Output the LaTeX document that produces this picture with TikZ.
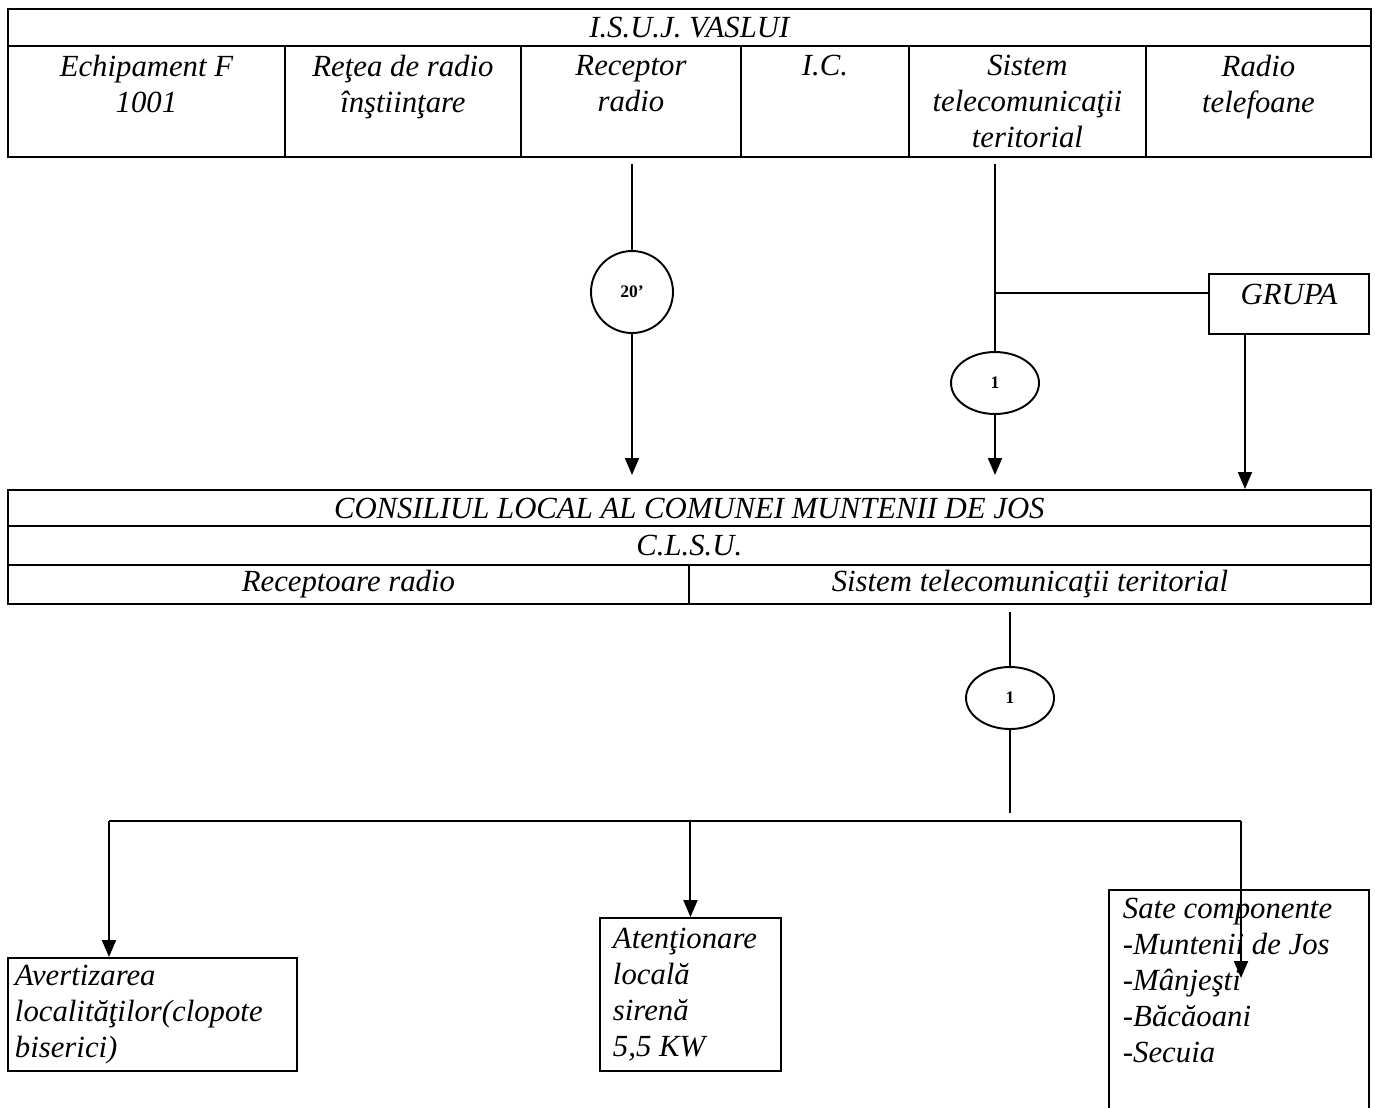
\documentclass[tikz,border=0pt]{standalone}
\usepackage{fontspec}
\setmainfont{Liberation Serif}
\usetikzlibrary{shapes.geometric,arrows.meta}
\newcommand{\cellfont}{\fontsize{17.5}{20.5}\selectfont\itshape}
\begin{document}
\begin{tikzpicture}[x=0.02cm, y=-0.02cm, line width=1.1pt,
        >={Triangle[length=0.34cm,width=0.28cm]},
        cell/.style = {draw, anchor=north west, inner ysep=0pt, align=center, font=\cellfont},
        note/.style = {draw, anchor=north west, inner ysep=0pt, align=flush left, font={\cellfont\hyphenpenalty=10000}},
        ring/.style = {draw, circle, inner sep=0pt, font=\fontsize{10}{11}\selectfont\bfseries},
        oval/.style = {draw, ellipse, inner sep=0pt, minimum width=1.76cm, minimum height=1.24cm, font=\fontsize{10}{11}\selectfont\bfseries}]
        \useasboundingbox (0,0) rectangle (1375,1107);

        \node[cell, minimum width=27.26cm, minimum height=0.74cm] (isuj) at (7,8) {I.S.U.J. VASLUI};
        \node[cell, minimum width=5.54cm, minimum height=2.22cm] (echip) at (7,45) {Echipament F\\1001\\~};
        \node[cell, minimum width=4.72cm, minimum height=2.22cm] (retea) at (284,45) {Reţea de radio\\înştiinţare\\~};
        \node[cell, minimum width=4.40cm, minimum height=2.22cm] (recept) at (520,45) {Receptor\\radio\\~};
        \node[cell, minimum width=3.36cm, minimum height=2.22cm] (ic) at (740,45) {I.C.\\~\\~};
        \node[cell, minimum width=4.74cm, minimum height=2.22cm] (sistem) at (908,45) {Sistem\\telecomunicaţii\\teritorial};
        \node[cell, minimum width=4.50cm, minimum height=2.22cm] (radiotel) at (1145,45) {Radio\\telefoane\\~};

        \node[cell, minimum width=27.26cm, minimum height=0.72cm] (consiliu) at (7,489) {CONSILIUL LOCAL AL COMUNEI MUNTENII DE JOS};
        \node[cell, minimum width=27.26cm, minimum height=0.78cm] (clsu) at (7,525) {C.L.S.U.};
        \node[cell, minimum width=13.62cm, minimum height=0.78cm] (recrad) at (7,564) {Receptoare radio};
        \node[cell, minimum width=13.64cm, minimum height=0.78cm] (sistel) at (688,564) {Sistem telecomunicaţii teritorial};

        \node[ring, minimum size=1.64cm] (c20) at (632,292) {20'};
        \node[oval] (e1) at (995,383) {1};
        \node[oval] (e2) at (1010,698) {1};
        \node[draw, anchor=north west, minimum width=3.2cm, inner ysep=0pt, text height=0.62cm, text depth=0.58cm, font=\cellfont] (grupa) at (1208,273) {GRUPA};

        \node[note, minimum width=5.78cm, minimum height=2.26cm, text width=5.5cm, inner xsep=0.14cm] (avert) at (7,957) {Avertizarea\\localităţilor(clopote\\biserici)};
        \node[note, minimum width=3.62cm, minimum height=3.06cm, text width=3.1cm, inner xsep=0.26cm] (atent) at (599,917) {Atenţionare\\locală\\sirenă\\5,5 KW};
        \node[note, minimum width=5.2cm, minimum height=5.04cm, text width=4.64cm, inner xsep=0.28cm] (sate) at (1108,889) {Sate componente\\-Muntenii de Jos\\-Mânjeşti\\-Băcăoani\\-Secuia\\~\\~};

        \coordinate (knot) at (995,293);
        \coordinate (drop) at (1010,813);
        \coordinate (busl) at (109,821);
        \coordinate (busr) at (1241,821);
        \coordinate (sateend) at (1241,978);

        \draw[shorten <=0.12cm] (c20.north |- recept.south) -- (c20.north);
        \draw[->, shorten >=0.28cm] (c20.south) -- (c20.south |- consiliu.north);

        \draw[shorten <=0.12cm] (e1.north |- sistem.south) -- (e1.north);
        \draw (knot) -- (knot -| grupa.west);
        \draw[->, shorten >=0.28cm] (e1.south) -- (e1.south |- consiliu.north);
        \draw[->] ([xshift=-0.88cm]grupa.south) -- ([xshift=-0.88cm]grupa.south |- consiliu.north);

        \draw[shorten <=0.14cm] (e2.north |- sistel.south) -- (e2.north);
        \draw (e2.south) -- (drop);
        \draw (busl) -- (busr);
        \draw[->] (busl) -- (busl |- avert.north);
        \draw[->] (busl -| atent.north) -- (atent.north);
        \draw[->] (busr) -- (sateend);
    \end{tikzpicture}
\end{document}
